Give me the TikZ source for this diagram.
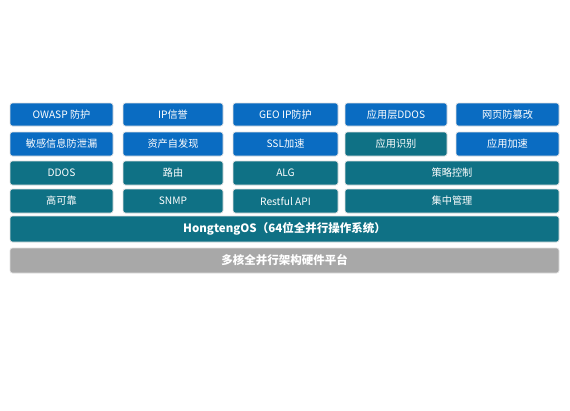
\documentclass[tikz,border=0pt]{standalone}
\usepackage{fontspec}
\setmainfont{Noto Sans CJK SC}
\usetikzlibrary{positioning}
\definecolor{cblue}{HTML}{0A6CC2}
\definecolor{cteal}{HTML}{0F7185}
\definecolor{cgray}{HTML}{A8A8A8}
\tikzset{
  cell/.style={rounded corners=2.5pt, draw=white!88!black, line width=0.6pt, text=white,
    font=\fontsize{10.2}{11}\selectfont, inner sep=0pt},
  bluecell/.style={cell, fill=cblue},
  tealcell/.style={cell, fill=cteal},
  graycell/.style={cell, fill=cgray, font=\fontsize{11.5}{12}\selectfont\bfseries},
  oscell/.style={cell, fill=cteal, font=\fontsize{11.5}{12}\selectfont\bfseries},
}
\begin{document}
\begin{tikzpicture}[x=1pt,y=-1pt]
\useasboundingbox[fill=white] (0,0) rectangle (570,410);
% row 1
\draw[bluecell] (10,103) rectangle (113,126) node[midway] (a1) {OWASP 防护};
\draw[bluecell] (123,103) rectangle (223,126) node[midway] (a2) {IP信誉};
\draw[bluecell] (233,103) rectangle (338,126) node[midway] (a3) {GEO IP防护};
\draw[bluecell] (345,103) rectangle (447,126) node[midway] (a4) {应用层DDOS};
\draw[bluecell] (456,103) rectangle (559,126) node[midway] (a5) {网页防篡改};
% row 2
\draw[bluecell] (10,132) rectangle (113,156) node[midway] (b1) {敏感信息防泄漏};
\draw[bluecell] (123,132) rectangle (223,156) node[midway] (b2) {资产自发现};
\draw[bluecell] (233,132) rectangle (338,156) node[midway] (b3) {SSL加速};
\draw[tealcell] (345,132) rectangle (447,156) node[midway] (b4) {应用识别};
\draw[bluecell] (456,132) rectangle (559,156) node[midway] (b5) {应用加速};
% row 3
\draw[tealcell] (10,161) rectangle (113,185) node[midway] (c1) {DDOS};
\draw[tealcell] (123,161) rectangle (223,185) node[midway] (c2) {路由};
\draw[tealcell] (233,161) rectangle (338,185) node[midway] (c3) {ALG};
\draw[tealcell] (345,161) rectangle (559,185) node[midway] (c4) {策略控制};
% row 4
\draw[tealcell] (10,189) rectangle (113,213) node[midway] (d1) {高可靠};
\draw[tealcell] (123,189) rectangle (223,213) node[midway] (d2) {SNMP};
\draw[tealcell] (233,189) rectangle (338,213) node[midway] (d3) {Restful API};
\draw[tealcell] (345,189) rectangle (559,213) node[midway] (d4) {集中管理};
% OS
\draw[oscell] (10,216) rectangle (559,242) node[midway] (os) {HongtengOS（64位全并行操作系统）};
% hardware
\draw[graycell] (10,248) rectangle (559,273) node[midway] (hw) {多核全并行架构硬件平台};
\end{tikzpicture}
\end{document}
